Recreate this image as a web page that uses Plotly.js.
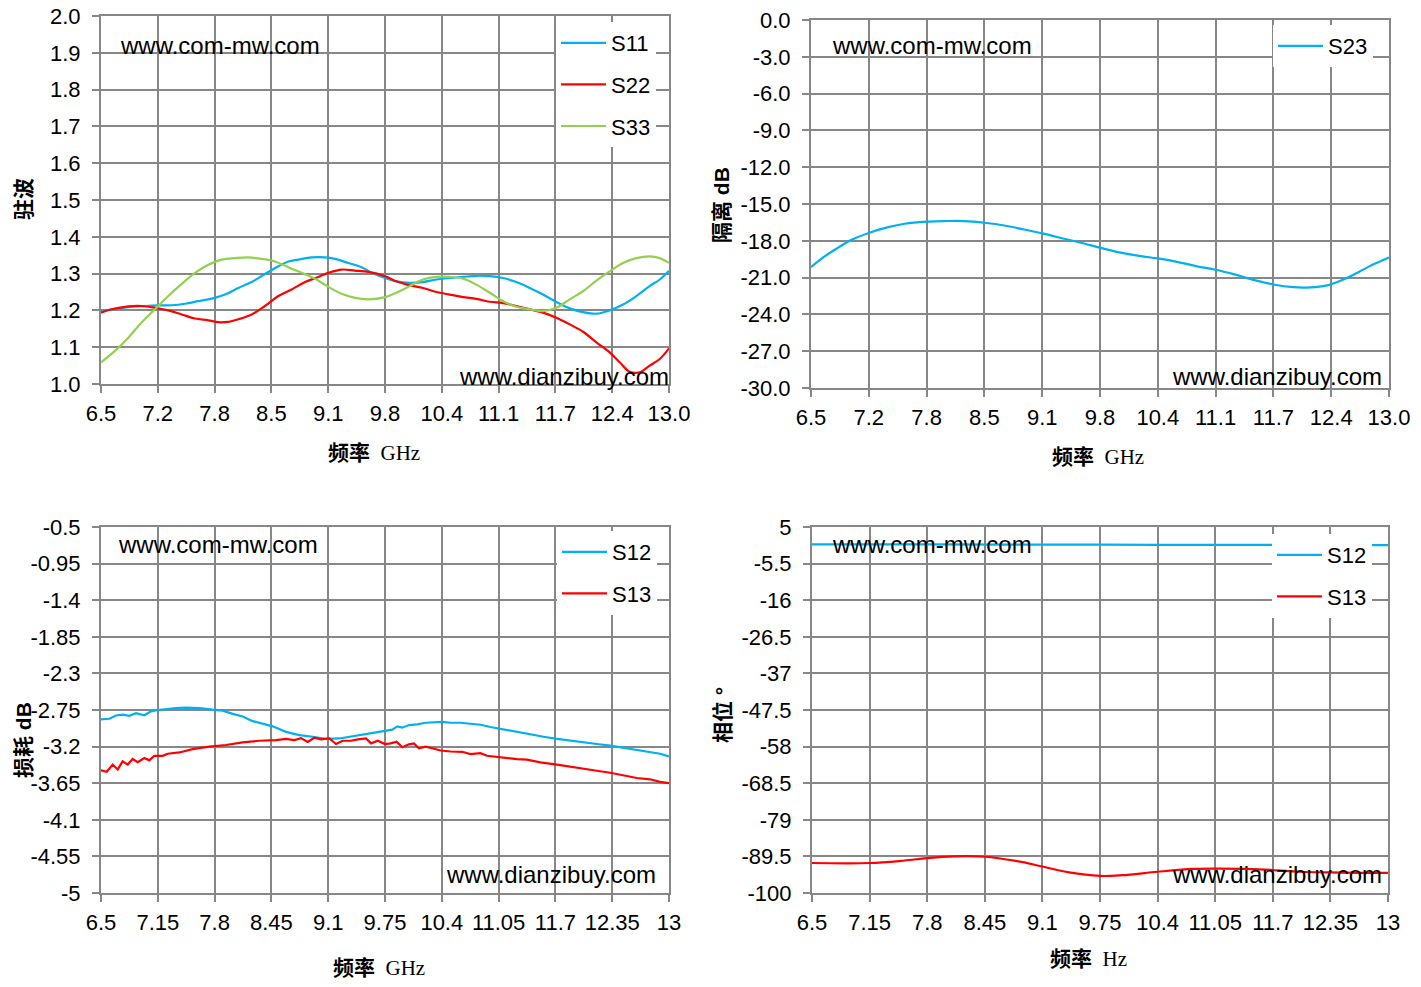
<!DOCTYPE html>
<html>
<head>
<meta charset="utf-8">
<script src="https://cdn.plot.ly/plotly-3.0.1.min.js"></script>
<style>
  html, body { margin: 0; padding: 0; background: #fff; }
  #chart { width: 1421px; height: 987px; }
</style>
</head>
<body>
<div id="chart"></div>
<script>
// x ticks shared by the four panels
const xTickVals = [6.5, 7.15, 7.8, 8.45, 9.1, 9.75, 10.4, 11.05, 11.7, 12.35, 13.0];
const xTickTextTop = ["6.5", "7.2", "7.8", "8.5", "9.1", "9.8", "10.4", "11.1", "11.7", "12.4", "13.0"];
const xTickTextBottom = ["6.5", "7.15", "7.8", "8.45", "9.1", "9.75", "10.4", "11.05", "11.7", "12.35", "13"];

// top left: VSWR
const vswrTicks = [1.0, 1.1, 1.2, 1.3, 1.4, 1.5, 1.6, 1.7, 1.8, 1.9, 2.0];
const freqS11 = [6.5, 6.66, 6.813, 7.004, 7.156, 7.309, 7.461, 7.614, 7.767, 7.919, 8.072, 8.224, 8.377, 8.53, 8.644, 8.758, 8.911, 9.064, 9.178, 9.331, 9.483, 9.598, 9.75,
  9.88, 10.032, 10.185, 10.338, 10.49, 10.643, 10.795, 10.948, 11.101, 11.253, 11.406, 11.558, 11.711, 11.864, 12.016, 12.169, 12.321, 12.474, 12.627, 12.779, 12.894, 13.0];
const vswrS11 = [1.198, 1.2045, 1.209, 1.212, 1.2135, 1.214, 1.218, 1.225, 1.232, 1.243, 1.261, 1.277, 1.299, 1.320, 1.333, 1.338, 1.344, 1.344, 1.340, 1.329, 1.317, 1.302, 1.288,
  1.279, 1.275, 1.277, 1.284, 1.288, 1.291, 1.294, 1.293, 1.288, 1.277, 1.261, 1.243, 1.223, 1.2055, 1.1955, 1.191, 1.200, 1.216, 1.239, 1.266, 1.284, 1.308];
const freqS22 = [6.5, 6.622, 6.813, 6.965, 7.118, 7.271, 7.423, 7.576, 7.728, 7.843, 7.957, 8.072, 8.224, 8.377, 8.53, 8.682, 8.835, 8.987, 9.102, 9.254, 9.407, 9.56, 9.75,
  9.88, 10.032, 10.185, 10.338, 10.49, 10.643, 10.795, 10.948, 11.101, 11.253, 11.406, 11.558, 11.711, 11.864, 12.016, 12.169, 12.321, 12.436, 12.55, 12.665, 12.779, 12.894, 13.0];
const vswrS22 = [1.194, 1.203, 1.211, 1.212, 1.207, 1.200, 1.189, 1.178, 1.173, 1.168, 1.169, 1.176, 1.189, 1.212, 1.239, 1.257, 1.277, 1.291, 1.302, 1.311, 1.308, 1.3045, 1.293,
  1.279, 1.268, 1.261, 1.250, 1.243, 1.236, 1.2315, 1.2235, 1.220, 1.212, 1.203, 1.194, 1.180, 1.162, 1.142, 1.113, 1.086, 1.059, 1.033, 1.032, 1.050, 1.068, 1.097];
const freqS33 = [6.5, 6.66, 6.813, 6.965, 7.118, 7.271, 7.423, 7.576, 7.728, 7.881, 8.034, 8.186, 8.339, 8.491, 8.644, 8.797, 8.949, 9.102, 9.254, 9.407, 9.56, 9.75,
  9.88, 10.032, 10.185, 10.338, 10.49, 10.643, 10.795, 10.948, 11.101, 11.253, 11.406, 11.558, 11.711, 11.864, 12.016, 12.169, 12.321, 12.474, 12.627, 12.779, 12.894, 13.0];
const vswrS33 = [1.059, 1.090, 1.126, 1.167, 1.203, 1.239, 1.272, 1.302, 1.324, 1.338, 1.342, 1.344, 1.340, 1.333, 1.317, 1.302, 1.286, 1.264, 1.245, 1.234, 1.230, 1.236,
  1.248, 1.266, 1.284, 1.291, 1.291, 1.2865, 1.270, 1.248, 1.225, 1.210, 1.203, 1.198, 1.207, 1.230, 1.252, 1.281, 1.306, 1.329, 1.342, 1.347, 1.342, 1.329];

// top right: isolation
const isoTicks = [-30, -27, -24, -21, -18, -15, -12, -9, -6, -3, 0];
const freqS23 = [6.5, 6.657, 6.806, 6.956, 7.15, 7.367, 7.553, 7.8, 8.002, 8.226, 8.45, 8.674, 8.898, 9.1, 9.347, 9.571, 9.75,
  9.982, 10.206, 10.4, 10.617, 10.841, 11.05, 11.252, 11.476, 11.7, 11.924, 12.074, 12.26, 12.342, 12.521, 12.671, 12.82, 13.0];
const isoS23 = [-20.14, -19.25, -18.56, -17.92, -17.36, -16.89, -16.61, -16.44, -16.39, -16.39, -16.53, -16.75, -17.08, -17.39, -17.83, -18.22, -18.56,
  -18.97, -19.25, -19.44, -19.72, -20.08, -20.36, -20.72, -21.19, -21.56, -21.78, -21.81, -21.69, -21.56, -21.06, -20.50, -19.94, -19.36];

// bottom left: loss
const lossTicks = [-5, -4.55, -4.1, -3.65, -3.2, -2.75, -2.3, -1.85, -1.4, -0.95, -0.5];
const freqLossS12 = [6.5, 6.595, 6.672, 6.748, 6.824, 6.901, 6.996, 7.072, 7.149, 7.244, 7.358, 7.473, 7.625, 7.778, 7.892, 8.007, 8.121, 8.236, 8.35, 8.465, 8.617, 8.77, 8.923, 9.075, 9.228, 9.38, 9.533, 9.686,
  9.75, 9.834, 9.891, 9.948, 10.024, 10.119, 10.214, 10.29, 10.405, 10.5, 10.614, 10.728, 10.842, 10.956, 11.109, 11.261, 11.413, 11.565, 11.718, 11.87, 12.022, 12.174, 12.327, 12.479, 12.631, 12.783, 12.898, 13.0];
const lossS12 = [-2.866, -2.858, -2.818, -2.806, -2.822, -2.790, -2.814, -2.766, -2.750, -2.738, -2.726, -2.722, -2.726, -2.746, -2.758, -2.798, -2.830, -2.887, -2.919, -2.951, -3.019, -3.059, -3.079, -3.104, -3.100, -3.071, -3.047, -3.015,
  -3.007, -2.991, -2.951, -2.967, -2.935, -2.927, -2.907, -2.903, -2.895, -2.907, -2.907, -2.919, -2.931, -2.959, -2.991, -3.019, -3.047, -3.079, -3.104, -3.128, -3.148, -3.168, -3.188, -3.216, -3.240, -3.264, -3.288, -3.320];
const freqLossS13 = [6.5, 6.565, 6.634, 6.691, 6.748, 6.805, 6.862, 6.92, 6.996, 7.053, 7.11, 7.206, 7.263, 7.397, 7.549, 7.74, 7.931, 8.121, 8.312, 8.503, 8.617, 8.713, 8.789, 8.865, 8.942, 9.018, 9.113, 9.19, 9.266, 9.361, 9.438, 9.533, 9.59, 9.667,
  9.75, 9.815, 9.883, 9.948, 10.024, 10.081, 10.138, 10.214, 10.29, 10.386, 10.5, 10.633, 10.728, 10.842, 10.918, 11.033, 11.147, 11.261, 11.375, 11.527, 11.718, 11.87, 12.022, 12.174, 12.327, 12.479, 12.631, 12.783, 12.898, 13.0];
const lossS13 = [-3.493, -3.509, -3.421, -3.481, -3.381, -3.421, -3.353, -3.393, -3.341, -3.369, -3.313, -3.313, -3.288, -3.272, -3.232, -3.200, -3.180, -3.148, -3.128, -3.120, -3.104, -3.120, -3.096, -3.144, -3.091, -3.112, -3.100, -3.168, -3.128, -3.128, -3.112, -3.100, -3.160, -3.128,
  -3.168, -3.160, -3.140, -3.208, -3.172, -3.160, -3.220, -3.200, -3.220, -3.248, -3.260, -3.264, -3.292, -3.280, -3.313, -3.329, -3.341, -3.353, -3.361, -3.393, -3.421, -3.449, -3.473, -3.497, -3.521, -3.553, -3.586, -3.602, -3.634, -3.650];

// bottom right: phase
const phaseTicks = [-100, -89.5, -79, -68.5, -58, -47.5, -37, -26.5, -16, -5.5, 5];
const freqPhaseS12 = [6.5, 7.8, 9.1, 10.4, 11.7, 13.0];
const phaseS12 = [0.0, 0.0, -0.05, -0.1, -0.15, -0.2];
const freqPhaseS13 = [6.5, 7.15, 7.5, 7.8, 8.1, 8.45, 8.8, 9.1, 9.4, 9.75, 10.0, 10.4, 10.8, 11.05, 11.4, 11.7, 12.0, 12.35, 12.7, 13.0];
const phaseS13 = [-91.4, -91.4, -90.8, -90.0, -89.5, -89.6, -90.8, -92.4, -94.1, -95.1, -94.9, -93.9, -93.1, -93.0, -93.1, -93.4, -93.9, -94.1, -94.2, -94.2];

const BLUE = "#00B0F0", RED = "#FF0000", GREEN = "#92D050";
const GRID = "#878787";
const TICK_FONT = { family: "Liberation Sans Narrow, Liberation Sans, sans-serif", size: 22, color: "#000" };

function line(x, y, name, color, xa, ya, legend, shape) {
  return {
    type: "scatter", mode: "lines", x, y, name,
    xaxis: xa, yaxis: ya, legend, legendgroup: name + xa,
    line: { color, width: 2.2, shape: shape || "spline", smoothing: 1 },
    hoverinfo: "x+y+name",
  };
}

const data = [
  line(freqS11, vswrS11, "S11", BLUE, "x", "y", "legend"),
  line(freqS22, vswrS22, "S22", RED, "x", "y", "legend"),
  line(freqS33, vswrS33, "S33", GREEN, "x", "y", "legend"),
  line(freqS23, isoS23, "S23", BLUE, "x2", "y2", "legend2"),
  line(freqLossS12, lossS12, "S12", BLUE, "x3", "y3", "legend3", "linear"),
  line(freqLossS13, lossS13, "S13", RED, "x3", "y3", "legend3", "linear"),
  line(freqPhaseS12, phaseS12, "S12", BLUE, "x4", "y4", "legend4"),
  line(freqPhaseS13, phaseS13, "S13", RED, "x4", "y4", "legend4"),
];

function xAxis(domain, anchor, ticktext) {
  return {
    domain, anchor, range: [6.5, 13.0],
    tickmode: "array", tickvals: xTickVals, ticktext,
    showgrid: true, gridcolor: GRID, gridwidth: 2,
    showline: true, linecolor: GRID, linewidth: 2, mirror: true,
    ticks: "outside", ticklen: 7, tickcolor: GRID, tickwidth: 2,
    ticklabelstandoff: 2,
    zeroline: false, tickfont: TICK_FONT,
  };
}

function yAxis(domain, anchor, ticks, fmt) {
  return {
    domain, anchor, range: [ticks[0], ticks[ticks.length - 1]],
    tickmode: "array", tickvals: ticks,
    ticktext: ticks.map(v => fmt ? v.toFixed(fmt) : String(v)),
    showgrid: true, gridcolor: GRID, gridwidth: 2,
    showline: true, linecolor: GRID, linewidth: 2, mirror: true,
    ticks: "outside", ticklen: 7, tickcolor: GRID, tickwidth: 2,
    ticklabelstandoff: 7,
    zeroline: false, tickfont: TICK_FONT,
  };
}

const W = 1421, H = 987;
const px = v => v / W;
const py = v => 1 - v / H;

function legendBox(x, y) {
  return {
    x: px(x), y: py(y), xanchor: "left", yanchor: "top",
    bgcolor: "#fff", borderwidth: 0,
    font: TICK_FONT, traceorder: "grouped", tracegroupgap: 10,
    itemwidth: 45,
  };
}

const CJK = "Noto Sans CJK SC";
function note(text, x, y, xanchor, opts) {
  return Object.assign({
    text, x: px(x), y: py(y), xref: "paper", yref: "paper",
    xanchor, yanchor: "middle", showarrow: false,
    font: { family: "Liberation Sans, sans-serif", size: 24, color: "#000" },
  }, opts || {});
}
const xTitleFont = { family: "Liberation Serif, " + CJK, size: 21, color: "#000" };
const yTitleFont = { family: "Liberation Sans, " + CJK, size: 21, color: "#000" };

const annotations = [
  note("www.com-mw.com", 118, 46, "left"),
  note("www.dianzibuy.com", 671, 376, "right"),
  note("www.com-mw.com", 830, 46, "left"),
  note("www.dianzibuy.com", 1384, 376, "right"),
  note("www.com-mw.com", 116, 544, "left"),
  note("www.dianzibuy.com", 658, 874, "right"),
  note("www.com-mw.com", 830, 544, "left"),
  note("www.dianzibuy.com", 1384, 874, "right"),
  note("<b>频率</b>  GHz", 374, 453, "center", { font: xTitleFont }),
  note("<b>频率</b>  GHz", 1098, 457, "center", { font: xTitleFont }),
  note("<b>频率</b>  GHz", 379, 968, "center", { font: xTitleFont }),
  note("<b>频率</b>  Hz", 1088, 959, "center", { font: xTitleFont }),
  note("<b>驻波</b>", 23, 199, "center", { font: yTitleFont, textangle: -90 }),
  note("<b>隔离 dB</b>", 722, 205, "center", { font: yTitleFont, textangle: -90 }),
  note("<b>损耗 dB</b>", 23, 740, "center", { font: yTitleFont, textangle: -90 }),
  note("<b>相位 °</b>", 722, 715, "center", { font: yTitleFont, textangle: -90 }),
];

const layout = {
  width: W, height: H,
  margin: { l: 0, r: 0, t: 0, b: 0 },
  paper_bgcolor: "#fff", plot_bgcolor: "#fff",
  minusformat: "-",
  showlegend: true,
  xaxis: xAxis([px(101), px(669)], "y", xTickTextTop),
  yaxis: yAxis([py(384), py(16)], "x", vswrTicks, 1),
  xaxis2: xAxis([px(811), px(1389)], "y2", xTickTextTop),
  yaxis2: yAxis([py(388), py(20)], "x2", isoTicks, 1),
  xaxis3: xAxis([px(101), px(669)], "y3", xTickTextBottom),
  yaxis3: yAxis([py(893), py(527)], "x3", lossTicks),
  xaxis4: xAxis([px(812), px(1388)], "y4", xTickTextBottom),
  yaxis4: yAxis([py(893), py(527)], "x4", phaseTicks),
  legend: legendBox(556, 22),
  legend2: legendBox(1273, 25),
  legend3: legendBox(557, 531),
  legend4: legendBox(1272, 534),
  annotations,
};

Plotly.newPlot("chart", data, layout, { displayModeBar: false, responsive: false });
</script>
</body>
</html>
